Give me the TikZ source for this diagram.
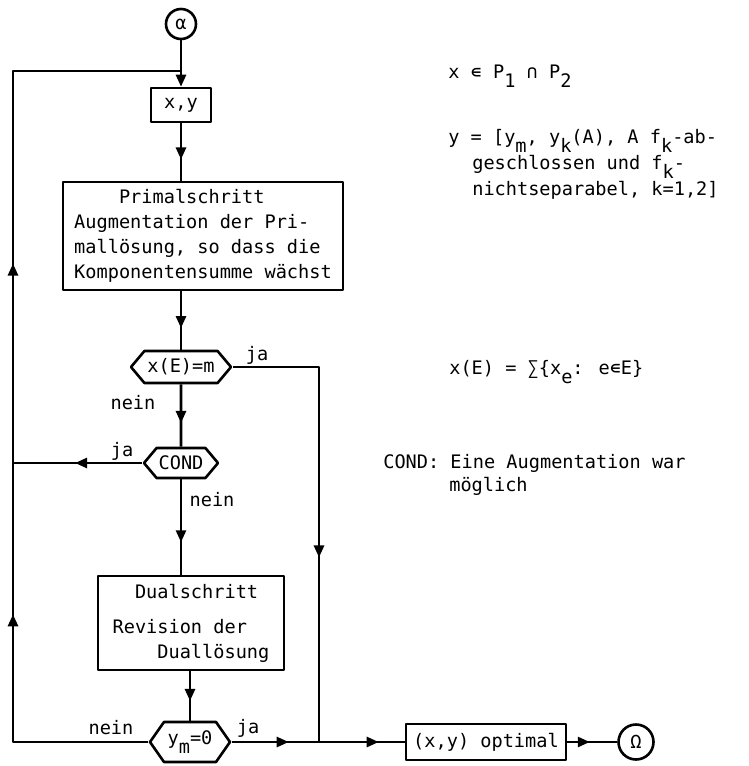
\documentclass[tikz,border=0pt]{standalone}
\usepackage{fontspec}
\setmainfont{DejaVu Sans Mono}
\usetikzlibrary{arrows.meta,shapes.symbols,decorations.markings}
\newcommand\lowr[1]{\raisebox{-0.5em}{#1}}
\tikzset{
  flowtip/.tip={Triangle[width=5pt,length=6pt]},
  box/.style={draw,rectangle,inner sep=0pt},
  hexa/.style={draw,signal,signal to=east and west,signal pointer angle=100,inner sep=0pt},
  term/.style={draw,circle,inner sep=0pt},
  lab/.style={inner sep=0pt},
  note/.style={anchor=base west,inner sep=0pt,align=left,font=\fontsize{9.3}{13}\selectfont},
  midarr/.style={postaction={decorate},decoration={markings,
    mark=at position #1 with {\arrow{flowtip}}}},
  twoarr/.style 2 args={postaction={decorate},decoration={markings,
    mark=at position #1 with {\arrow{flowtip}},
    mark=at position #2 with {\arrow{flowtip}}}},
}
\begin{document}
\begin{tikzpicture}[x=0.5pt,y=-0.5pt,line width=1.3pt,line join=round,
    font=\fontsize{9.3}{12.5}\selectfont]
    \useasboundingbox (0,0) rectangle (749,766);

    % flow chart
    \node[term,minimum size=15pt] (alpha) at (181,24) {α};
    \node[box,minimum width=30pt,minimum height=17pt] (xy) at (181,105) {x,y};
    \node[box,minimum width=140pt,minimum height=54pt,align=left] (primal) at (203,236)
        {\phantom{xxxx}Primalschritt\\Augmentation der Pri-\\mallösung, so dass die\\Komponentensumme wächst};
    \node[hexa,minimum width=50pt,minimum height=16pt] (test) at (181,367) {x(E)=m};
    \node[hexa,minimum width=37pt,minimum height=15pt] (cond) at (181,463) {COND};
    \node[box,minimum width=93pt,minimum height=47pt,align=left] (dual) at (191,623)
        {\phantom{xx}Dualschritt\\[5pt]Revision der\\\phantom{xxxx}Duallösung};
    \node[hexa,minimum width=40pt,minimum height=20pt,signal pointer angle=110] (ym) at (190,742) {y\lowr{m}=0};
    \node[box,minimum width=80pt,minimum height=18pt] (opt) at (486,742) {(x,y) optimal};
    \node[term,minimum size=17.5pt] (omega) at (636,742) {Ω};

    \coordinate (jt) at (181,71);
    \coordinate (lt) at (13,71);
    \coordinate (lb) at (13,742);
    \coordinate (rt) at (319,367);
    \coordinate (jr) at (319,742);

    \draw[-flowtip] (alpha) -- (xy);
    \draw[midarr=0.63] (xy.south) -- (xy.south |- primal.north);
    \draw[midarr=0.63] (primal.south -| test) -- (test.north);
    \draw[midarr=0.62] (test) -- (cond);
    \draw[midarr=0.66] (cond.south) -- (cond.south |- dual.north);
    \draw[midarr=0.6] (ym.north |- dual.south) -- (ym.north);
    \draw[midarr=0.6] (test.east) -- (rt) -- (jr);
    \draw[twoarr={0.33}{0.85}] (ym.east) -- (jr) -- (opt.west);
    \draw[midarr=0.45] (opt) -- (omega);
    \draw[midarr=0.52] (cond.west) -- (cond.west -| lb);
    \draw[twoarr={0.27}{0.63}] (ym.west) -- (lb) -- (lt) -- (jt);

    % branch labels
    \node[lab] (ja1) at (257,355) {ja};
    \node[lab] (nein1) at (133,403) {nein};
    \node[lab] (ja2) at (122,451) {ja};
    \node[lab] (nein2) at (212,500) {nein};
    \node[lab] (nein3) at (111,728) {nein};
    \node[lab] (ja3) at (248,728) {ja};

    % notes (base = last line)
    \node[note] (n1) at (447,78) {x ∊ P\lowr{1} ∩ P\lowr{2}};
    \node[note] (n2) at (447,195) {y = [y\lowr{m}, y\lowr{k}(A), A f\lowr{k}-ab-\\
        \hspace*{12pt}geschlossen und f\lowr{k}-\\
        \hspace*{12pt}nichtseparabel, k=1,2]};
    \node[note] (n3) at (448,374) {x(E) = ∑\{x\lowr{e}: e∊E\}};
    \node[note] (n4) at (382,491) {COND: Eine Augmentation war\\[-1.5pt]
        \hspace*{33pt}möglich};
\end{tikzpicture}
\end{document}
